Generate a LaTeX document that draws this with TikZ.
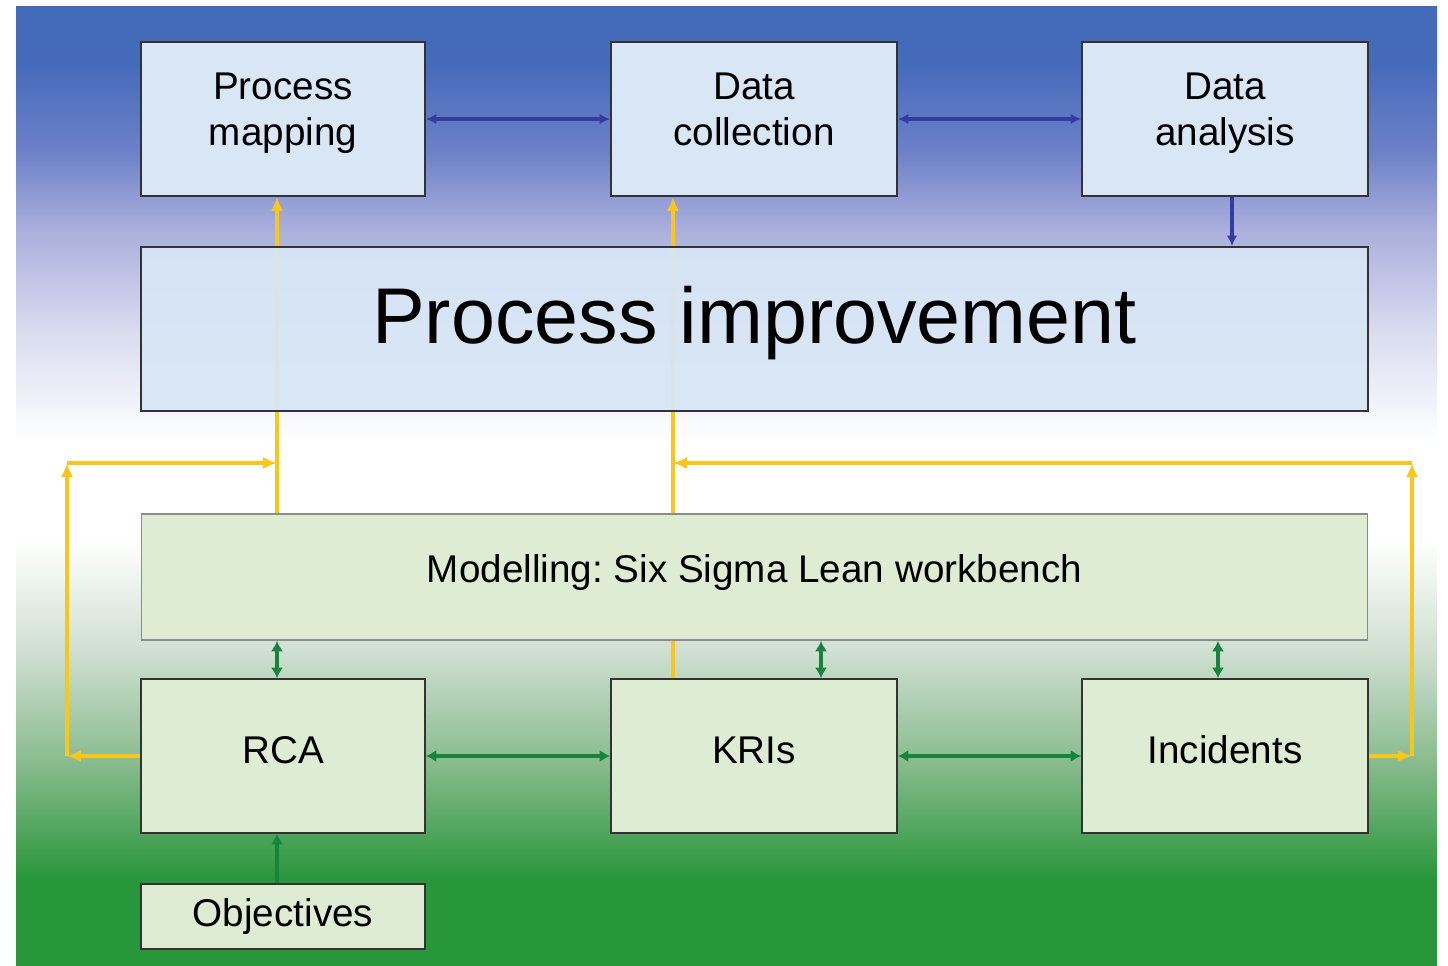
\documentclass[tikz,border=0pt]{standalone}
\usepackage{fontspec}
\setmainfont{Liberation Sans}
\usetikzlibrary{arrows.meta}

\definecolor{bgblue}{RGB}{68,106,186}
\definecolor{bgsky}{RGB}{108,128,200}
\definecolor{bglav}{RGB}{170,175,220}
\definecolor{bgpale}{RGB}{218,220,240}
\definecolor{bgmist}{RGB}{208,224,210}
\definecolor{bgmid}{RGB}{138,188,142}
\definecolor{bggreen}{RGB}{40,150,58}
\definecolor{boxblue}{RGB}{216,230,246}
\definecolor{boxgreen}{RGB}{222,236,212}
\definecolor{flowyellow}{RGB}{250,198,28}
\definecolor{flowgreen}{RGB}{22,132,60}
\definecolor{flowblue}{RGB}{52,60,162}

% only 25bp..75bp is seen on the path
\pgfdeclareverticalshading{backdrop}{100bp}{
  color(0bp)=(bggreen); color(29.5bp)=(bggreen); color(35.7bp)=(bgmid);
  color(41.5bp)=(bgmist); color(47.2bp)=(white); color(52.4bp)=(white);
  color(58bp)=(bgpale); color(63.4bp)=(bglav); color(67.5bp)=(bgsky);
  color(72.2bp)=(bgblue); color(100bp)=(bgblue)}

\begin{document}
\begin{tikzpicture}[x=0.02cm, y=-0.02cm,
  box/.style={draw=black!80, line width=1pt, inner sep=0pt, align=center,
    font=\fontsize{22pt}{26.5pt}\selectfont},
  bluebox/.style={box, fill=boxblue},
  greenbox/.style={box, fill=boxgreen},
  small/.style={minimum width=5.68cm, minimum height=3.08cm},
  uptext/.style={label={[yshift=0.12cm, align=center, font=\fontsize{22pt}{26.5pt}\selectfont]center:#1}},
  yflow/.style={draw=flowyellow, line width=2.3pt, -{Latex[length=8pt,width=7pt]}},
  gflow/.style={draw=flowgreen, line width=2.2pt, {Latex[length=6pt,width=7pt]}-{Latex[length=6pt,width=7pt]}},
  bflow/.style={draw=flowblue, line width=1.9pt, {Latex[length=6pt,width=6pt]}-{Latex[length=6pt,width=6pt]}}]

\useasboundingbox (0,0) rectangle (1448,966);
\shade[shading=backdrop] (16,7) rectangle (1437,966);

% lines kept behind the boxes
\coordinate (ymap) at (277,463);
\coordinate (ycoll) at (673,463);
\coordinate (lcorner) at (67,463);
\coordinate (rcorner) at (1412,463);

\node[bluebox, minimum width=24.54cm, minimum height=3.28cm, opacity=0] (impr) at (754.5,329) {};
\node[greenbox, minimum width=24.54cm, minimum height=2.52cm, opacity=0] (model) at (754.5,577) {};
\node[bluebox, small, opacity=0] (map) at (283,119) {};
\node[bluebox, small, minimum width=5.72cm, opacity=0] (coll) at (754,119) {};

\draw[yflow] (ymap|-model.north) -- (ymap|-map.south);
\draw[yflow] (ycoll|-model.north) -- (ycoll|-coll.south);

% top row
\node[bluebox, small, uptext={Process\strut\\mapping\strut}] at (map) {};
\node[bluebox, small, minimum width=5.72cm, uptext={Data\strut\\collection\strut}] at (coll) {};
\node[bluebox, small, minimum width=5.72cm, uptext={Data\strut\\analysis\strut}] (anal) at (1225,119) {};

% middle bands
\node[bluebox, minimum width=24.54cm, minimum height=3.28cm, fill opacity=0.93, text opacity=1,
  label={[yshift=0.12cm, font=\fontsize{45pt}{54pt}\selectfont]center:Process improvement}] at (impr) {};
\node[greenbox, draw=black!45, line width=0.6pt, minimum width=24.54cm, minimum height=2.52cm,
  label={[yshift=0.08cm, font=\fontsize{22pt}{26.5pt}\selectfont]center:Modelling:~Six Sigma Lean workbench}]
  at (model) {};

% bottom row
\node[greenbox, small, uptext=RCA] (rca) at (283,756) {};
\node[greenbox, small, minimum width=5.72cm, uptext=KRIs] (kri) at (754,756) {};
\node[greenbox, small, minimum width=5.72cm, uptext=Incidents] (inc) at (1225,756) {};
\node[greenbox, minimum width=5.68cm, minimum height=1.3cm] (obj) at (283,916.5) {Objectives};

% yellow loops
\draw[yflow, -] (ycoll|-model.south) -- (ycoll|-kri.north);
\draw[yflow] (rca.west) -- (lcorner|-rca.west);
\draw[yflow] (lcorner|-rca.west) -- (lcorner);
\draw[yflow] (lcorner) -- (ymap);
\draw[yflow] (inc.east) -- (rcorner|-inc.east);
\draw[yflow] (rcorner|-inc.east) -- (rcorner);
\draw[yflow] (rcorner) -- (ycoll);

% blue links
\coordinate (banal) at (1232,220);
\draw[bflow] (map.east) -- (coll.west);
\draw[bflow] (coll.east) -- (anal.west);
\draw[bflow, -{Latex[length=6pt,width=6pt]}] (banal|-anal.south) -- (banal|-impr.north);

% green links
\coordinate (grca) at (277,660);
\coordinate (gkri) at (821,660);
\coordinate (ginc) at (1218,660);
\draw[gflow] (grca|-model.south) -- (grca|-rca.north);
\draw[gflow] (gkri|-model.south) -- (gkri|-kri.north);
\draw[gflow] (ginc|-model.south) -- (ginc|-inc.north);
\draw[gflow] (rca.east) -- (kri.west);
\draw[gflow] (kri.east) -- (inc.west);
\draw[gflow, {}-{Latex[length=6pt,width=7pt]}] (grca|-obj.north) -- (grca|-rca.south);

\end{tikzpicture}
\end{document}
